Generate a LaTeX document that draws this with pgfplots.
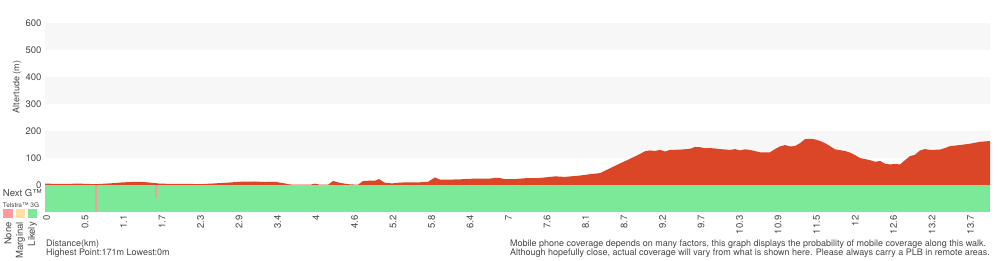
\documentclass[border=0pt]{standalone}
\usepackage{fontspec}
\setmainfont{TeX Gyre Heros}
\usepackage{pgfplots}
\pgfplotsset{compat=1.18}
\definecolor{elev}{RGB}{219,70,39}
\definecolor{likely}{RGB}{123,233,151}
\definecolor{nonec}{RGB}{255,153,153}
\definecolor{marginal}{RGB}{255,224,160}
\definecolor{band}{RGB}{247,247,247}
\definecolor{txt}{RGB}{70,70,70}
\begin{document}
\begin{tikzpicture}
\useasboundingbox (0pt,0pt) rectangle (1000pt,260pt);
\begin{axis}[
  at={(45pt,48pt)}, anchor=south west, scale only axis,
  width=945pt, height=189pt,
  xmin=0, xmax=14.05, ymin=-100, ymax=600,
  axis line style={draw=none}, major tick length=0pt,
  ytick={0,100,200,300,400,500,600},
  xtick={0,0.5725,1.145,1.7175,2.29,2.8625,3.435,4.0075,4.58,5.1525,5.725,6.2975,6.87,7.4425,8.015,8.5875,9.16,9.7325,10.305,10.8775,11.45,12.0225,12.595,13.1675,13.74},
  xticklabels={0,0.5,1.1,1.7,2.3,2.9,3.4,4,4.6,5.2,5.8,6.4,7,7.6,8.1,8.7,9.2,9.7,10.3,10.9,11.5,12,12.6,13.2,13.7},
  xticklabel style={rotate=90, anchor=east, font=\fontsize{9.5}{10}\selectfont, text=txt, yshift=-1.5pt},
  yticklabel style={font=\fontsize{9.5}{10}\selectfont, text=txt},
  /pgf/number format/assume math mode=true,
  clip=false,
]
\fill[band] (axis cs:0,100) rectangle (axis cs:14.05,200);
\fill[band] (axis cs:0,300) rectangle (axis cs:14.05,400);
\fill[band] (axis cs:0,500) rectangle (axis cs:14.05,600);
\addplot[fill=elev, draw=none] coordinates {
(0,0) (0,5) (0.223,4) (0.520,5) (0.743,3) (0.966,6) (1.115,9) (1.264,11) (1.412,12) (1.561,9)
(1.710,5) (1.933,4) (2.156,4) (2.305,3) (2.453,5) (2.676,8) (2.899,12) (3.122,13) (3.271,11)
(3.420,12) (3.539,7) (3.643,2) (3.791,1) (3.940,1) (4.014,5) (4.089,1) (4.208,1) (4.282,15)
(4.386,8) (4.505,3) (4.654,1) (4.728,15) (4.832,16) (4.906,16) (4.966,22) (5.055,8) (5.159,6)
(5.278,9) (5.427,10) (5.576,10) (5.694,12) (5.798,28) (5.873,20) (6.022,20) (6.170,21)
(6.319,23) (6.468,24) (6.617,24) (6.735,27) (6.839,22) (6.988,22) (7.137,25) (7.360,26)
(7.583,32) (7.731,30) (7.954,35) (8.103,40) (8.252,44) (8.401,62) (8.550,80) (8.698,97)
(8.847,115) (8.921,125) (8.995,128) (9.069,126) (9.144,130) (9.218,124) (9.293,130)
(9.441,131) (9.590,134) (9.664,141) (9.739,140) (9.813,136) (9.887,137) (10.036,133)
(10.185,130) (10.259,133) (10.333,128) (10.408,132) (10.482,130) (10.631,121) (10.779,121)
(10.854,133) (10.928,143) (11.002,148) (11.077,143) (11.151,144) (11.225,155) (11.300,170)
(11.374,171) (11.448,169) (11.523,163) (11.597,155) (11.671,144) (11.746,132) (11.894,126)
(11.969,120) (12.043,111) (12.117,100) (12.192,96) (12.266,92) (12.340,86) (12.415,89)
(12.489,79) (12.563,76) (12.638,78) (12.712,76) (12.786,92) (12.861,107) (12.935,112)
(13.010,128) (13.084,133) (13.158,130) (13.307,131) (13.381,137) (13.455,144) (13.604,148)
(13.753,153) (13.902,160) (14.05,163) (14.05,0)
} -- cycle;
\addplot[fill=likely, draw=none] coordinates {(0,0) (14.05,0) (14.05,-100) (0,-100)} -- cycle;
\addplot[fill=nonec, draw=none] coordinates {(0.745,0) (0.78,0) (0.78,-100) (0.745,-100)} -- cycle;
\addplot[fill=nonec, draw=none] coordinates {(1.637,0) (1.67,0) (1.67,-48) (1.637,-48)} -- cycle;
\end{axis}
\begin{scope}[every node/.style={text=txt, inner sep=0pt}]
\node[rotate=90, font=\fontsize{9}{10}\selectfont] at (17pt,173pt) {Altertude (m)};
\node[anchor=east, font=\fontsize{9.5}{10}\selectfont] at (42pt,66.5pt) {Next G™};
\node[font=\fontsize{6.5}{7}\selectfont] at (21pt,55pt) {Telstra™ 3G};
\fill[nonec] (3pt,42pt) rectangle (12.5pt,51pt);
\fill[marginal] (16pt,42pt) rectangle (25pt,51pt);
\fill[likely] (28pt,42pt) rectangle (37pt,51pt);
\node[rotate=90, anchor=east, font=\fontsize{9.5}{10}\selectfont] at (8pt,38pt) {None};
\node[rotate=90, anchor=east, font=\fontsize{9.5}{10}\selectfont] at (20.5pt,38pt) {Marginal};
\node[rotate=90, anchor=east, font=\fontsize{9.5}{10}\selectfont] at (32.5pt,38pt) {Likely};
\node[anchor=west, font=\fontsize{9}{10}\selectfont] at (46pt,15.5pt) {Distance(km)};
\node[anchor=west, font=\fontsize{9}{10}\selectfont] at (46pt,7pt) {Highest Point:171m Lowest:0m};
\node[anchor=west, font=\fontsize{9}{10}\selectfont] at (510pt,15.5pt) {Mobile phone coverage depends on many factors, this graph displays the probability of mobile coverage along this walk.};
\node[anchor=west, font=\fontsize{9}{10}\selectfont] at (510pt,7pt) {Although hopefully close, actual coverage will vary from what is shown here. Please always carry a PLB in remote areas.};
\end{scope}
\end{tikzpicture}
\end{document}
